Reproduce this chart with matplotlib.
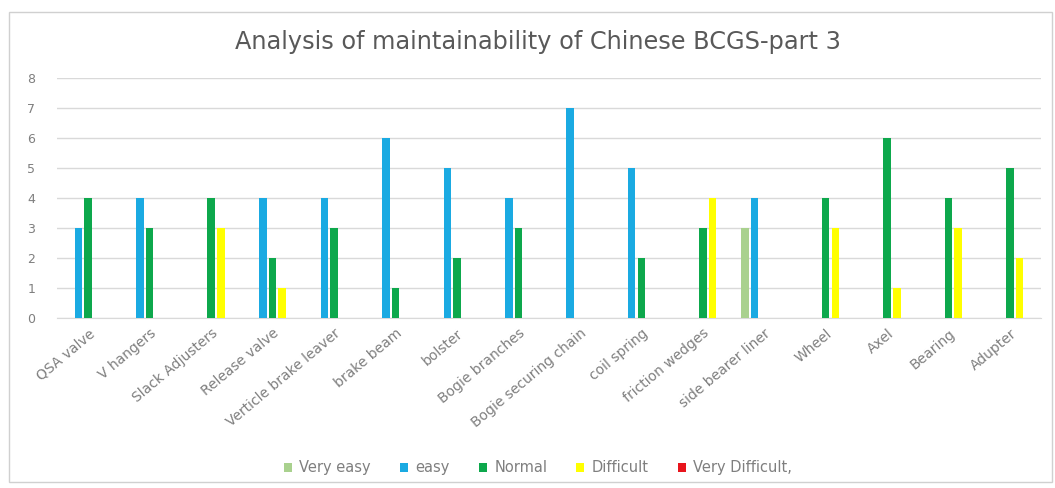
#
# Grouped column chart of maintainability ratings per bogie/brake component
#

import numpy as np
import matplotlib.pyplot as plt
from matplotlib.patches import Rectangle

components = ['QSA valve', 'V hangers', 'Slack Adjusters', 'Release valve',
              'Verticle brake leaver', 'brake beam', 'bolster', 'Bogie branches',
              'Bogie securing chain', 'coil spring', 'friction wedges',
              'side bearer liner', 'Wheel', 'Axel', 'Bearing', 'Adupter']

very_easy      = [0, 0, 0, 0, 0, 0, 0, 0, 0, 0, 0, 3, 0, 0, 0, 0]
easy           = [3, 4, 0, 4, 4, 6, 5, 4, 7, 5, 0, 4, 0, 0, 0, 0]
normal         = [4, 3, 4, 2, 3, 1, 2, 3, 0, 2, 3, 0, 4, 6, 4, 5]
difficult      = [0, 0, 3, 1, 0, 0, 0, 0, 0, 0, 4, 0, 3, 1, 3, 2]
very_difficult = [0, 0, 0, 0, 0, 0, 0, 0, 0, 0, 0, 0, 0, 0, 0, 0]

series_names = ['Very easy', 'easy', 'Normal', 'Difficult', 'Very Difficult,']
series_colors = ['#A9D18E', '#1AAAE2', '#0DA84C', '#FFFF00', '#E8141C']

title_grey = '#595959'
label_grey = '#7F7F7F'

fig = plt.figure(figsize=(10.55, 4.88), dpi=100)
# light frame around the whole chart
fig.patches.append(Rectangle((0.009, 0.012), 0.988, 0.963, transform=fig.transFigure,
                             fill=False, edgecolor='#D0D0D0', linewidth=1))

ax = fig.add_axes([0.0545, 0.3484, 0.932, 0.4918])

x = np.arange(len(components))
step = 0.157
width = 0.122
all_series = [very_easy, easy, normal, difficult, very_difficult]
for i, (vals, name, col) in enumerate(zip(all_series, series_names, series_colors)):
    ax.bar(x + (i - 2) * step, vals, width=width, color=col, label=name, zorder=3)

ax.set_xlim(-0.5, len(components) - 0.5)
ax.set_ylim(0, 8)
ax.set_yticks(range(0, 9))
ax.grid(axis='y', color='#D9D9D9', linewidth=1, zorder=0)
for side in ['top', 'right', 'left']:
    ax.spines[side].set_visible(False)
ax.spines['bottom'].set_color('#D9D9D9')
ax.tick_params(axis='both', length=0, colors=label_grey, labelsize=9)
ax.tick_params(axis='y', pad=16)
ax.tick_params(axis='x', pad=6)
ax.set_xticks(x)
ax.set_xticklabels(components, rotation=40, ha='right', rotation_mode='anchor',
                   fontsize=10, color=label_grey)

fig.text(0.5095, 0.914, 'Analysis of maintainability of Chinese BCGS-part 3',
         ha='center', va='center', fontsize=17.3, color=title_grey)

fig.legend(loc='center', bbox_to_anchor=(0.51, 0.041), ncol=5, frameon=False,
           fontsize=10.5, handlelength=0.55, handleheight=0.55, columnspacing=2.0,
           handletextpad=0.5, labelcolor=label_grey)

fig.savefig('out.png', dpi=100)
